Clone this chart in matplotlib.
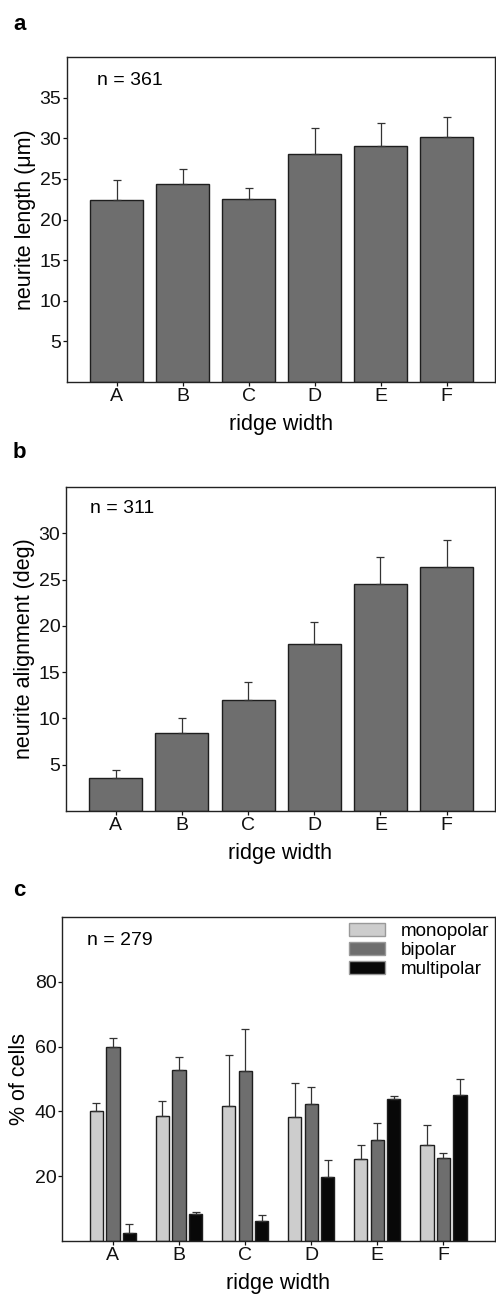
import matplotlib
matplotlib.use("Agg")
import matplotlib.pyplot as plt
import numpy as np
from matplotlib.patches import Patch

plt.rcParams['font.family'] = ['Liberation Sans', 'DejaVu Sans']

categories = ["A", "B", "C", "D", "E", "F"]

# panel a
length_mean = [22.45, 24.4, 22.5, 28.1, 29.1, 30.2]
length_err = [2.45, 1.8, 1.4, 3.2, 2.8, 2.4]

# panel b
align_mean = [3.56, 8.41, 12.0, 18.0, 24.5, 26.4]
align_err = [0.9, 1.62, 1.9, 2.4, 2.9, 2.9]

# panel c
mono_mean = [40.0, 38.6, 41.7, 38.3, 25.4, 29.5]
mono_err = [2.5, 4.6, 15.7, 10.6, 4.3, 6.4]
bip_mean = [60.0, 52.8, 52.6, 42.4, 31.1, 25.5]
bip_err = [2.6, 4.0, 12.7, 5.0, 5.3, 1.7]
multi_mean = [2.6, 8.2, 6.1, 19.7, 43.7, 45.1]
multi_err = [2.5, 0.9, 1.9, 5.3, 1.1, 5.0]

W, H = 496, 1296
fig = plt.figure(figsize=(W / 100, H / 100), dpi=100)

DARK = "#6e6e6e"
LIGHT = "#cdcdcd"
BLACK = "#080808"
EDGE = "#1e1e1e"
TICK_FS = 14
LAB_FS = 15.5


def px_axes(l, t, r, b):
    return fig.add_axes([l / W, 1 - b / H, (r - l) / W, (b - t) / H])


def style(ax):
    for s in ax.spines.values():
        s.set_linewidth(1.0)
        s.set_color("#222222")
    ax.tick_params(direction="out", length=3, width=0.9, labelsize=TICK_FS,
                   colors="#111111", pad=1)
    ax.set_xlabel("ridge width", fontsize=LAB_FS, labelpad=7)


x = np.arange(len(categories))
ekw = dict(elinewidth=0.9, capthick=0.9, ecolor="#333333")

# ---- a
ax = px_axes(67, 57, 495, 382)
ax.bar(x, length_mean, width=0.8, color=DARK, edgecolor=EDGE, linewidth=1.0,
       yerr=[np.zeros(6), length_err], capsize=3, error_kw=ekw)
ax.set_xlim(-0.75, 5.73)
ax.set_ylim(0, 40)
ax.set_yticks([5, 10, 15, 20, 25, 30, 35])
ax.set_xticks(x)
ax.set_xticklabels(categories)
ax.set_ylabel("neurite length (\u03bcm)", fontsize=LAB_FS, labelpad=3)
ax.text(0.07, 0.929, "n = 361", transform=ax.transAxes, fontsize=TICK_FS,
        va="center", ha="left")
style(ax)
fig.text(13 / W, 1 - 24 / H, "a", fontsize=16, fontweight="bold", va="center")

# ---- b
ax = px_axes(66, 487, 495, 811)
ax.bar(x, align_mean, width=0.8, color=DARK, edgecolor=EDGE, linewidth=1.0,
       yerr=[np.zeros(6), align_err], capsize=3, error_kw=ekw)
ax.set_xlim(-0.75, 5.73)
ax.set_ylim(0, 35)
ax.set_yticks([5, 10, 15, 20, 25, 30])
ax.set_xticks(x)
ax.set_xticklabels(categories)
ax.set_ylabel("neurite alignment (deg)", fontsize=LAB_FS, labelpad=3)
ax.text(0.056, 0.935, "n = 311", transform=ax.transAxes, fontsize=TICK_FS,
        va="center", ha="left")
style(ax)
fig.text(13 / W, 1 - 453 / H, "b", fontsize=16, fontweight="bold", va="center")

# ---- c
ax = px_axes(62, 917, 495, 1241)
bw = 0.2
off = 0.25
for vals, errs, col, dx in [(mono_mean, mono_err, LIGHT, -off),
                            (bip_mean, bip_err, DARK, 0),
                            (multi_mean, multi_err, BLACK, off)]:
    ax.bar(x + dx, vals, width=bw, color=col, edgecolor=EDGE, linewidth=1.0,
           yerr=[np.zeros(6), errs], capsize=3, error_kw=ekw)
ax.set_xlim(-0.77, 5.78)
ax.set_ylim(0, 100)
ax.set_yticks([20, 40, 60, 80])
ax.set_xticks(x)
ax.set_xticklabels(categories)
ax.set_ylabel("% of cells", fontsize=LAB_FS, labelpad=3)
ax.text(0.058, 0.926, "n = 279", transform=ax.transAxes, fontsize=TICK_FS,
        va="center", ha="left")
handles = [Patch(facecolor=LIGHT, edgecolor="#999999", label="monopolar"),
           Patch(facecolor=DARK, edgecolor="#999999", label="bipolar"),
           Patch(facecolor=BLACK, edgecolor="#999999", label="multipolar")]
ax.legend(handles=handles, loc="upper right", frameon=False, fontsize=13.5,
          handlelength=1.9, handleheight=0.7, handletextpad=0.85,
          labelspacing=0.1, borderaxespad=0.2, borderpad=0.1)
style(ax)
fig.text(13 / W, 1 - 891 / H, "c", fontsize=16, fontweight="bold", va="center")

fig.savefig("out.png", dpi=100)
